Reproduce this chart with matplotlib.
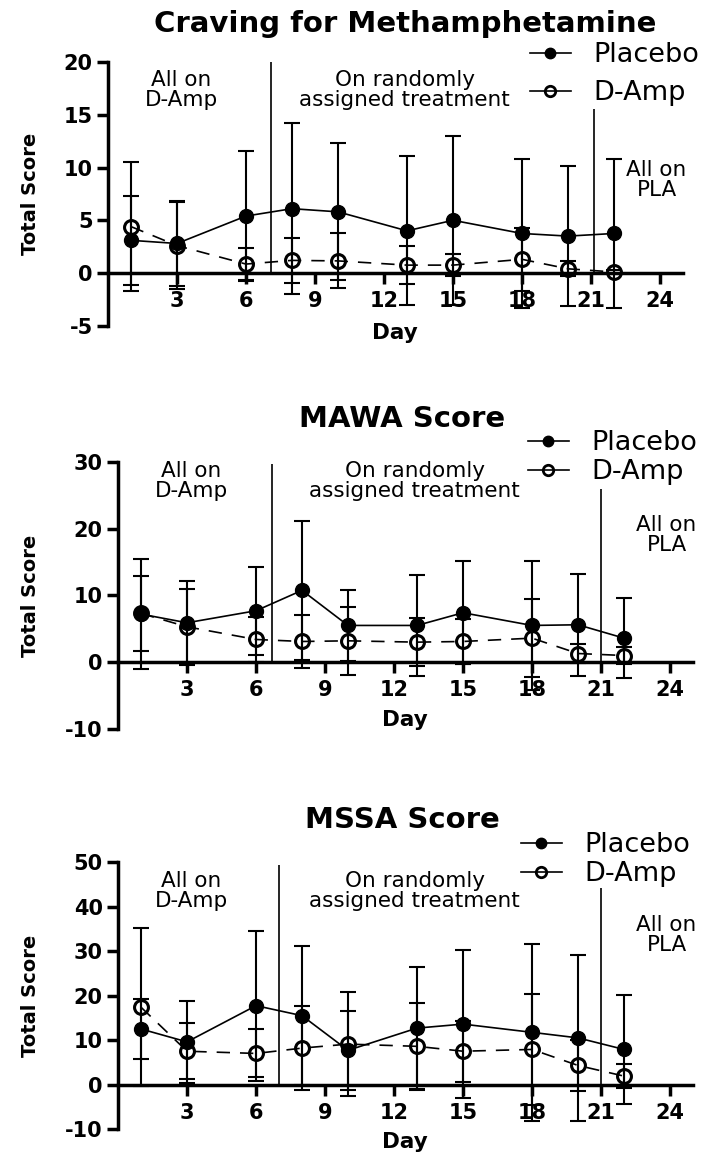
import matplotlib
matplotlib.use('Agg')
import matplotlib.pyplot as plt
from matplotlib.lines import Line2D

plt.rcParams['font.family'] = 'DejaVu Sans'
plt.rcParams['axes.unicode_minus'] = False

days = [1, 3, 6, 8, 10, 13, 15, 18, 20, 22]
x_ticks = [3, 6, 9, 12, 15, 18, 21, 24]

# Craving for Methamphetamine (mean, SD)
craving_placebo = [3.1, 2.8, 5.4, 6.1, 5.8, 4.0, 5.0, 3.75, 3.5, 3.75]
craving_placebo_sd = [4.2, 4.0, 6.2, 8.1, 6.5, 7.05, 8.0, 7.1, 6.6, 7.05]
craving_damp = [4.4, 2.6, 0.85, 1.2, 1.15, 0.75, 0.75, 1.3, 0.4, 0.1]
craving_damp_sd = [6.1, 4.1, 1.5, 2.1, 2.6, 1.8, 1.05, 3.0, 0.7, 0.2]

# MAWA Score
mawa_placebo = [7.2, 5.9, 7.7, 10.75, 5.5, 5.5, 7.4, 5.5, 5.6, 3.6]
mawa_placebo_sd = [8.2, 6.3, 6.6, 10.4, 5.3, 7.5, 7.7, 9.6, 7.6, 6.0]
mawa_damp = [7.3, 5.3, 3.4, 3.1, 3.2, 3.0, 3.1, 3.6, 1.3, 1.0]
mawa_damp_sd = [5.6, 5.6, 3.3, 3.9, 5.1, 3.6, 3.4, 5.85, 1.4, 1.2]

# MSSA Score
mssa_placebo = [12.5, 9.6, 17.75, 15.5, 7.7, 12.7, 13.6, 11.75, 10.5, 7.9]
mssa_placebo_sd = [6.8, 9.3, 16.9, 15.6, 8.9, 13.7, 16.7, 19.95, 18.7, 12.2]
mssa_damp = [17.4, 7.5, 7.0, 8.2, 9.1, 8.6, 7.5, 7.9, 4.3, 1.9]
mssa_damp_sd = [17.8, 6.3, 5.4, 9.5, 11.7, 9.75, 6.9, 12.5, 5.65, 2.7]

W, H = 710, 1159
fig = plt.figure(figsize=(W / 100, H / 100), dpi=100)


def draw_panel(rect, title, title_xy, placebo, placebo_sd, damp, damp_sd,
               ylim, yticks, phase_lines, text_y, pla_y, day_xy, ylab_x,
               leg_xy, leg_space):
    ax = fig.add_axes(rect)
    ax.spines['top'].set_visible(False)
    ax.spines['right'].set_visible(False)
    ax.spines['left'].set_linewidth(2.5)
    ax.spines['bottom'].set_linewidth(2.5)
    ax.spines['bottom'].set_position(('data', 0))

    ax.errorbar(days, placebo, yerr=placebo_sd, fmt='none', ecolor='black',
                elinewidth=1.5, capsize=5.5, capthick=1.5, zorder=2)
    ax.errorbar(days, damp, yerr=damp_sd, fmt='none', ecolor='black',
                elinewidth=1.5, capsize=5.5, capthick=1.5, zorder=2)
    ax.plot(days, placebo, color='black', lw=1.2, marker='o', ms=10,
            mfc='black', mec='black', zorder=4)
    ax.plot(days, damp, color='black', lw=1.2, ls=(0, (8, 6)), marker='o',
            ms=10, mfc='none', mec='black', mew=2.2, zorder=4)

    for xv, top in phase_lines:
        ax.vlines(xv, 0, top, color='black', lw=1.2)

    ax.text(3.2, text_y, 'All on\nD-Amp', ha='center', va='center',
            fontsize=15.5, linespacing=1.0)
    ax.text(12.9, text_y, 'On randomly\nassigned treatment', ha='center',
            va='center', fontsize=15.5, linespacing=1.0)
    ax.text(23.85, pla_y, 'All on\nPLA', ha='center', va='center',
            fontsize=15.5, linespacing=1.0)

    ax.set_xlim(0, 25)
    ax.set_ylim(*ylim)
    ax.set_xticks(x_ticks)
    ax.set_xticklabels([str(t) for t in x_ticks], fontweight='bold',
                       fontsize=15)
    ax.set_yticks(yticks)
    ax.set_yticklabels([str(t) for t in yticks], fontweight='bold',
                       fontsize=15)
    ax.tick_params(axis='both', width=2.5, length=8, direction='out', pad=3)
    ax.tick_params(axis='x', pad=5)

    fig.text(title_xy[0] / W, 1 - title_xy[1] / H, title, ha='center',
             va='baseline', fontsize=21, fontweight='bold')
    fig.text(day_xy[0] / W, 1 - day_xy[1] / H, 'Day', ha='center',
             va='baseline', fontsize=15.5, fontweight='bold')
    fig.text(ylab_x / W, rect[1] + rect[3] / 2, 'Total Score', rotation=90,
             ha='center', va='center', fontsize=14, fontweight='bold')

    handles = [
        Line2D([], [], color='black', lw=1.2, marker='o', ms=7.5,
               mfc='black'),
        Line2D([], [], color='black', lw=1.2, marker='o', ms=7.5,
               mfc='none', mew=2),
    ]
    ax.legend(handles, ['Placebo', 'D-Amp'], loc='upper left',
              bbox_to_anchor=(leg_xy[0] / W, 1 - leg_xy[1] / H),
              bbox_transform=fig.transFigure, frameon=False, fontsize=19.5,
              borderpad=0, borderaxespad=0, handlelength=1.5,
              handletextpad=0.85, labelspacing=leg_space)
    return ax


draw_panel([108 / W, 0.7189, 575 / W, 0.2276], 'Craving for Methamphetamine',
           (405, 31.7), craving_placebo, craving_placebo_sd, craving_damp,
           craving_damp_sd, (-5, 20), [-5, 0, 5, 10, 15, 20],
           [(7.1, 20), (21.15, 15.5)], 17.35, 8.85, (395, 339), 30,
           (530, 42), 0.45)

draw_panel([118 / W, 0.3710, 575 / W, 0.2306], 'MAWA Score',
           (402, 426.7), mawa_placebo, mawa_placebo_sd, mawa_damp,
           mawa_damp_sd, (-10, 30), [-10, 0, 10, 20, 30],
           [(6.7, 29.6), (21.0, 25.9)], 27.1, 19.1, (405, 726), 30,
           (528, 430), 0.12)

draw_panel([118 / W, 0.02588, 575 / W, 0.2301], 'MSSA Score',
           (402, 828.3), mssa_placebo, mssa_placebo_sd, mssa_damp,
           mssa_damp_sd, (-10, 50), [-10, 0, 10, 20, 30, 40, 50],
           [(7.0, 49.3), (21.0, 44.2)], 43.5, 33.6, (405, 1148), 30,
           (521, 832.5), 0.1)

fig.savefig('out.png', dpi=100)
